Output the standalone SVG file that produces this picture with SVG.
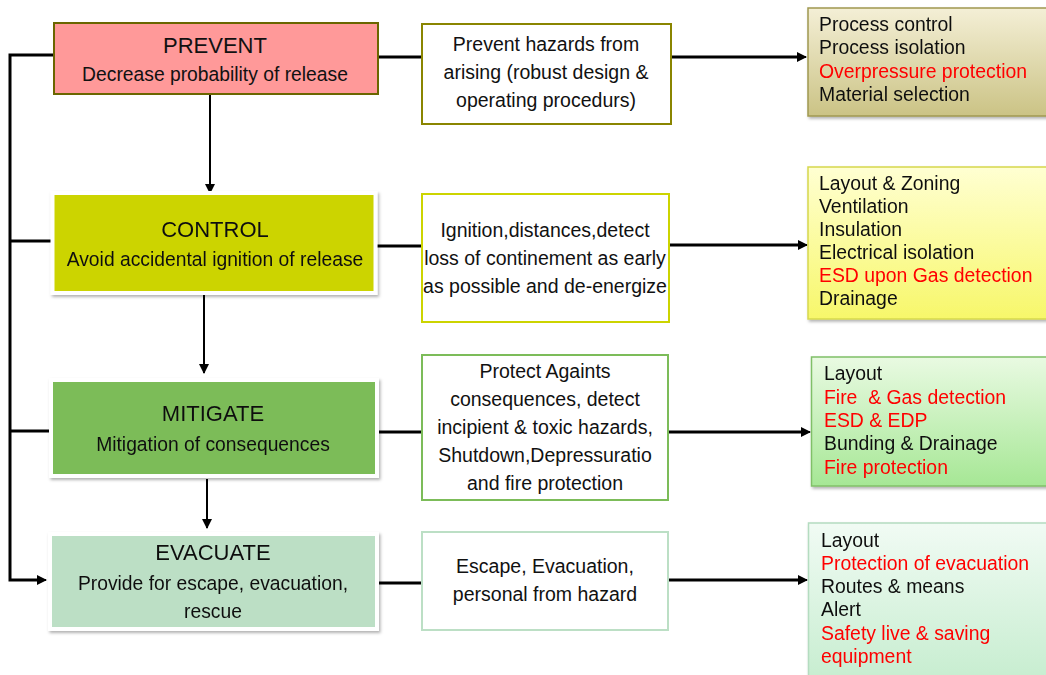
<svg xmlns="http://www.w3.org/2000/svg" width="1046" height="675" viewBox="0 0 1046 675">
  <defs>
    <style>
      text { font-family: "Liberation Sans", Arial, sans-serif; fill: #111; }
      .title { font-size: 22px; text-anchor: middle; }
      .sub { font-size: 19.3px; text-anchor: middle; }
      .mid { font-size: 19.5px; text-anchor: middle; }
      .list { font-size: 19.4px; }
      .red { fill: #ff0000; }
      .wire { fill: none; stroke: #000; stroke-width: 3; }
      .thin { fill: none; stroke: #000; stroke-width: 2; }
    </style>
    <marker id="arrow" viewBox="0 0 10 10" refX="9" refY="5" markerWidth="11" markerHeight="10" markerUnits="userSpaceOnUse" orient="auto">
      <path d="M0,0 L10,5 L0,10 z" fill="#000"/>
    </marker>
    <filter id="shadow" x="-5%" y="-10%" width="115%" height="130%">
      <feDropShadow dx="1.5" dy="2" stdDeviation="1.5" flood-color="#000" flood-opacity="0.3"/>
    </filter>
    <linearGradient id="gPrevent" x1="0" y1="0" x2="0" y2="1">
      <stop offset="0" stop-color="#f4efd6"/>
      <stop offset="1" stop-color="#cbc385"/>
    </linearGradient>
    <linearGradient id="gControl" x1="0" y1="0" x2="0" y2="1">
      <stop offset="0" stop-color="#ffffd2"/>
      <stop offset="1" stop-color="#f7f76a"/>
    </linearGradient>
    <linearGradient id="gMitigate" x1="0" y1="0" x2="0" y2="1">
      <stop offset="0" stop-color="#e9fae2"/>
      <stop offset="1" stop-color="#a6e795"/>
    </linearGradient>
    <linearGradient id="gEvacuate" x1="0" y1="0" x2="0" y2="1">
      <stop offset="0" stop-color="#f1fbf4"/>
      <stop offset="1" stop-color="#c6edcf"/>
    </linearGradient>
  </defs>

  <!-- connectors -->
  <g id="connectors">
    <!-- left feedback spine -->
    <path class="wire" d="M53,55 H10 V580 H40"/>
    <path class="thin" d="M40,580 H46" marker-end="url(#arrow)"/>
    <path class="wire" d="M10,241 H53"/>
    <path class="wire" d="M10,431 H51"/>
    <!-- vertical flow -->
    <path class="thin" d="M210,94 V193" marker-end="url(#arrow)"/>
    <path class="thin" d="M204,292 V373" marker-end="url(#arrow)"/>
    <path class="thin" d="M207,479 V528" marker-end="url(#arrow)"/>
    <!-- row 1 -->
    <path class="wire" d="M378,57 H421"/>
    <path class="wire" d="M671,57 H798"/>
    <path class="thin" d="M796,57 H806" marker-end="url(#arrow)"/>
    <!-- row 2 -->
    <path class="wire" d="M376,246 H421"/>
    <path class="wire" d="M669,245 H798"/>
    <path class="thin" d="M796,245 H807" marker-end="url(#arrow)"/>
    <!-- row 3 -->
    <path class="wire" d="M377,432 H421"/>
    <path class="wire" d="M668,432 H801"/>
    <path class="thin" d="M799,432 H810" marker-end="url(#arrow)"/>
    <!-- row 4 -->
    <path class="wire" d="M377,583 H421"/>
    <path class="wire" d="M668,580 H798"/>
    <path class="thin" d="M796,580 H807" marker-end="url(#arrow)"/>
  </g>

  <!-- stage boxes -->
  <g id="prevent">
    <rect x="54" y="23" width="324" height="71" fill="#ff9999" stroke="#6b6600" stroke-width="2"/>
    <text class="title" x="215" y="53">PREVENT</text>
    <text class="sub" x="215" y="81">Decrease probability of release</text>
  </g>
  <g id="control" filter="url(#shadow)">
    <rect x="52.5" y="193" width="323" height="100" fill="#ccd400" stroke="#fff" stroke-width="4"/>
    <text class="title" x="215" y="237">CONTROL</text>
    <text class="sub" x="215" y="266">Avoid accidental ignition of release</text>
  </g>
  <g id="mitigate" filter="url(#shadow)">
    <rect x="51" y="380" width="326" height="96" fill="#7cbc59" stroke="#fff" stroke-width="4"/>
    <text class="title" x="213" y="421">MITIGATE</text>
    <text class="sub" x="213" y="451">Mitigation of consequences</text>
  </g>
  <g id="evacuate" filter="url(#shadow)">
    <rect x="50" y="534" width="327" height="95" fill="#bcdfc5" stroke="#fff" stroke-width="4"/>
    <text class="title" x="213" y="560">EVACUATE</text>
    <text class="sub" x="213" y="590">Provide for escape, evacuation,</text>
    <text class="sub" x="213" y="618">rescue</text>
  </g>

  <!-- strategy boxes -->
  <g id="strategy-prevent">
    <rect x="422" y="24" width="249" height="100" fill="#fff" stroke="#8a8500" stroke-width="2"/>
    <text class="mid" x="546" y="51">Prevent hazards from</text>
    <text class="mid" x="546" y="79">arising (robust design &amp;</text>
    <text class="mid" x="546" y="107">operating procedurs)</text>
  </g>
  <g id="strategy-control">
    <rect x="422" y="194" width="247" height="128" fill="#fff" stroke="#ccd400" stroke-width="2"/>
    <text class="mid" x="545" y="237">Ignition,distances,detect</text>
    <text class="mid" x="545" y="265">loss of continement as early</text>
    <text class="mid" x="545" y="293">as possible and de-energize</text>
  </g>
  <g id="strategy-mitigate">
    <rect x="422" y="355" width="246" height="145" fill="#fff" stroke="#7cbc59" stroke-width="2"/>
    <text class="mid" x="545" y="378">Protect Againts</text>
    <text class="mid" x="545" y="406">consequences, detect</text>
    <text class="mid" x="545" y="434">incipient &amp; toxic hazards,</text>
    <text class="mid" x="545" y="462">Shutdown,Depressuratio</text>
    <text class="mid" x="545" y="490">and fire protection</text>
  </g>
  <g id="strategy-evacuate">
    <rect x="422" y="532" width="246" height="98" fill="#fff" stroke="#bcdfc5" stroke-width="2"/>
    <text class="mid" x="545" y="573">Escape, Evacuation,</text>
    <text class="mid" x="545" y="601">personal from hazard</text>
  </g>

  <!-- measure lists -->
  <g id="measures-prevent" filter="url(#shadow)">
    <rect x="808" y="8" width="260" height="108" fill="url(#gPrevent)" stroke="#a09850" stroke-width="1.5"/>
    <text class="list" x="819" y="31">Process control</text>
    <text class="list" x="819" y="54">Process isolation</text>
    <text class="list red" x="819" y="78">Overpressure protection</text>
    <text class="list" x="819" y="101">Material selection</text>
  </g>
  <g id="measures-control" filter="url(#shadow)">
    <rect x="808" y="167" width="260" height="152" fill="url(#gControl)" stroke="#d6d84c" stroke-width="1.5"/>
    <text class="list" x="819" y="190">Layout &amp; Zoning</text>
    <text class="list" x="819" y="213">Ventilation</text>
    <text class="list" x="819" y="236">Insulation</text>
    <text class="list" x="819" y="259">Electrical isolation</text>
    <text class="list red" x="819" y="282">ESD upon Gas detection</text>
    <text class="list" x="819" y="305">Drainage</text>
  </g>
  <g id="measures-mitigate" filter="url(#shadow)">
    <rect x="811.5" y="357" width="260" height="129" fill="url(#gMitigate)" stroke="#80c068" stroke-width="1.5"/>
    <text class="list" x="824" y="380">Layout</text>
    <text class="list red" x="824" y="404">Fire&#160; &amp; Gas detection</text>
    <text class="list red" x="824" y="427">ESD &amp; EDP</text>
    <text class="list" x="824" y="450">Bunding &amp; Drainage</text>
    <text class="list red" x="824" y="474">Fire protection</text>
  </g>
  <g id="measures-evacuate" filter="url(#shadow)">
    <rect x="808.5" y="523" width="260" height="160" fill="url(#gEvacuate)" stroke="#b4dcc0" stroke-width="1.5"/>
    <text class="list" x="821" y="547">Layout</text>
    <text class="list red" x="821" y="570">Protection of evacuation</text>
    <text class="list" x="821" y="593">Routes &amp; means</text>
    <text class="list" x="821" y="616">Alert</text>
    <text class="list red" x="821" y="640">Safety live &amp; saving</text>
    <text class="list red" x="821" y="663">equipment</text>
  </g>
</svg>
